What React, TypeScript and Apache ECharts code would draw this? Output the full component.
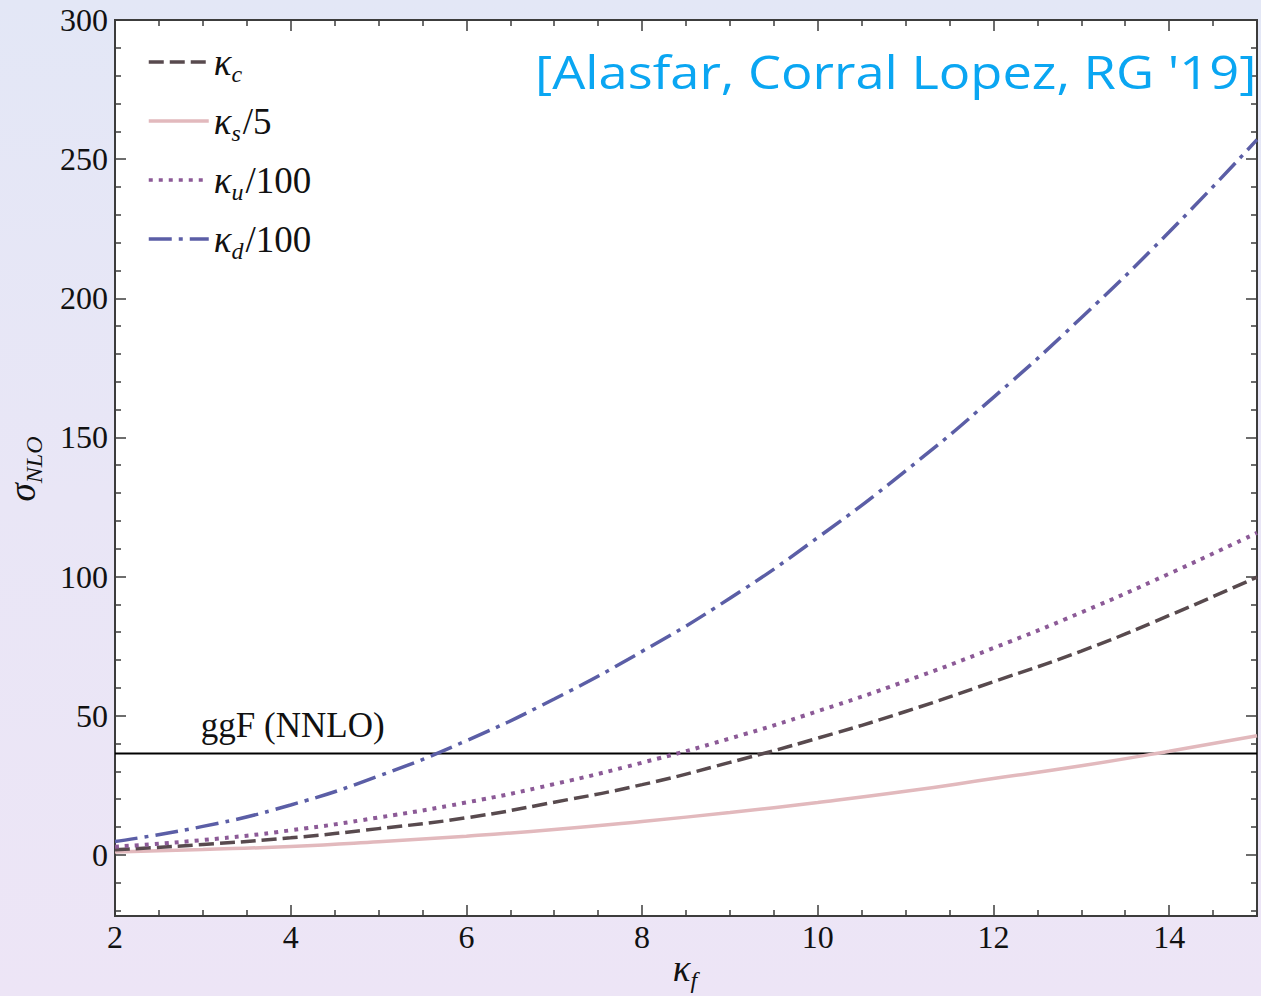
import React, { useEffect, useRef } from "react";
import * as echarts from "echarts";

// kappa_f values
const kappa = [2, 3, 4, 5, 6, 7, 8, 9, 10, 11, 12, 13, 14, 15];
// sigma_NLO for each coupling
const sigmaKc = [1.8, 3.7, 6.1, 9.4, 13.3, 18.9, 25.2, 33.2, 41.9, 51.5, 62.2, 73.2, 86.0, 99.8];
const sigmaKs5 = [1.0, 1.9, 3.0, 4.7, 6.7, 9.1, 12.0, 15.2, 18.8, 22.8, 27.4, 32.0, 37.2, 42.8];
const sigmaKu100 = [2.9, 5.3, 8.8, 13.4, 18.8, 25.4, 33.1, 41.8, 51.6, 62.4, 74.3, 87.1, 101.0, 115.7];
const sigmaKd100 = [4.8, 10.2, 17.9, 28.3, 41.0, 56.0, 73.1, 92.2, 114.0, 138.0, 164.4, 193.0, 223.8, 257.0];
const ggfNNLO = 36.4;
const ggfLabel = "ggF (NNLO)";
const citation = "[Alasfar, Corral Lopez, RG '19]";

// ticks
const xMajor = [2, 4, 6, 8, 10, 12, 14];
const xMinor = [2.5, 3, 3.5, 4.5, 5, 5.5, 6.5, 7, 7.5, 8.5, 9, 9.5, 10.5, 11, 11.5, 12.5, 13, 13.5, 14.5];
const yMajor = [0, 50, 100, 150, 200, 250, 300];
const yMinor = [-20, -10, 10, 20, 30, 40, 60, 70, 80, 90, 110, 120, 130, 140, 160, 170, 180, 190, 210, 220, 230, 240, 260, 270, 280, 290];

const seriesNames = ["kc", "ks", "ku", "kd"];
const legendLabels: Record<string, string> = {
  kc: "{k|κ}{s|c}",
  ks: "{k|κ}{s|s}{n|/5}",
  ku: "{k|κ}{s|u}{n|/100}",
  kd: "{k|κ}{s|d}{n|/100}",
};

const SERIF = "Liberation Serif";
const FRAME = "#3c3c3c";
const X_MIN = 2, X_MAX = 15, Y_MIN = -22, Y_MAX = 300;

const pairs = (ys: number[]) => kappa.map((k, i) => [k, ys[i]]);

const richMath = {
  k: { fontFamily: SERIF, fontStyle: "italic", fontSize: 37, lineHeight: 36, verticalAlign: "top", color: "#111" },
  s: { fontFamily: SERIF, fontStyle: "italic", fontSize: 24, lineHeight: 22, verticalAlign: "top", padding: [18, 2, 0, 0], color: "#111" },
  n: { fontFamily: SERIF, fontStyle: "normal", fontSize: 37, lineHeight: 36, verticalAlign: "top", color: "#111" },
};

function xAxisDef(grid: number, position: string, ticks: number[], len: number, labels: boolean, name?: boolean) {
  return {
    type: "value",
    gridIndex: grid,
    position,
    min: X_MIN,
    max: X_MAX,
    axisLine: { show: true, onZero: false, lineStyle: { color: FRAME, width: 2 } },
    axisTick: { show: true, inside: true, length: len, customValues: ticks, lineStyle: { color: FRAME, width: 1.5 } },
    axisLabel: labels
      ? { show: true, customValues: xMajor, margin: 5, fontFamily: SERIF, fontSize: 32, color: "#111" }
      : { show: false },
    splitLine: { show: false },
    name: name ? "{k|κ}{s|f}" : "",
    nameLocation: "middle",
    nameGap: 34,
    nameMoveOverlap: false,
    nameTextStyle: { fontFamily: SERIF, rich: richMath, verticalAlign: "top" },
  };
}

function yAxisDef(grid: number, position: string, ticks: number[], len: number, labels: boolean, name?: boolean) {
  return {
    type: "value",
    gridIndex: grid,
    position,
    min: Y_MIN,
    max: Y_MAX,
    axisLine: { show: true, onZero: false, lineStyle: { color: FRAME, width: 2 } },
    axisTick: { show: true, inside: true, length: len, customValues: ticks, lineStyle: { color: FRAME, width: 1.5 } },
    axisLabel: labels
      ? { show: true, customValues: yMajor, margin: 7, fontFamily: SERIF, fontSize: 32, color: "#111" }
      : { show: false },
    splitLine: { show: false },
    name: name ? "{k|σ}{s|NLO}" : "",
    nameLocation: "middle",
    nameRotate: 90,
    nameGap: 75,
    nameTextStyle: { fontFamily: SERIF, rich: richMath },
  };
}

export default function App() {
  const ref = useRef<HTMLDivElement>(null);
  useEffect(() => {
    if (!ref.current) return;
    const chart = echarts.init(ref.current, null, { renderer: "svg" });
    const gridRect = { left: 115, right: 4, top: 20, bottom: 80, outerBoundsMode: "none", containLabel: false };
    chart.setOption({
      animation: false,
      backgroundColor: "transparent",
      textStyle: { fontFamily: SERIF },
      grid: [
        { ...gridRect, show: true, backgroundColor: "#ffffff", borderWidth: 0 },
        { ...gridRect, show: false },
      ],
      xAxis: [
        xAxisDef(0, "bottom", xMajor, 11, true, true),
        xAxisDef(0, "top", xMajor, 11, false),
        xAxisDef(1, "bottom", xMinor, 6, false),
        xAxisDef(1, "top", xMinor, 6, false),
      ],
      yAxis: [
        yAxisDef(0, "left", yMajor, 11, true, true),
        yAxisDef(0, "right", yMajor, 11, false),
        yAxisDef(1, "left", yMinor, 6, false),
        yAxisDef(1, "right", yMinor, 6, false),
      ],
      legend: {
        data: seriesNames,
        orient: "vertical",
        left: 142,
        top: 39,
        itemWidth: 60,
        itemHeight: 14,
        itemGap: 17,
        formatter: (n: string) => legendLabels[n],
        itemStyle: { opacity: 0, borderWidth: 0 },
        lineStyle: { width: 3.5 },
        textStyle: { fontFamily: SERIF, rich: richMath },
      },
      series: [
        {
          name: "ggF",
          type: "line",
          xAxisIndex: 0,
          yAxisIndex: 0,
          data: [[X_MIN, ggfNNLO], [X_MAX, ggfNNLO]],
          symbol: "none",
          lineStyle: { color: "#000", width: 2.2 },
          itemStyle: { color: "#000" },
          z: 3,
          markPoint: {
            symbol: "circle",
            symbolSize: 0,
            data: [{ coord: [3, ggfNNLO] }],
            label: {
              show: true,
              formatter: ggfLabel,
              position: "right",
              distance: 0,
              offset: [-2, -28],
              fontFamily: SERIF,
              fontSize: 35,
              color: "#111",
            },
          },
        },
        {
          name: "ks",
          type: "line",
          data: pairs(sigmaKs5),
          smooth: true,
          symbol: "none",
          lineStyle: { color: "#e2b9bd", width: 3.5, type: "solid" },
          itemStyle: { color: "#e2b9bd" },
          z: 4,
        },
        {
          name: "kc",
          type: "line",
          data: pairs(sigmaKc),
          smooth: true,
          symbol: "none",
          lineStyle: { color: "#584a4e", width: 3.5, type: [15, 6] },
          itemStyle: { color: "#584a4e" },
          z: 5,
        },
        {
          name: "ku",
          type: "line",
          data: pairs(sigmaKu100),
          smooth: true,
          symbol: "none",
          lineStyle: { color: "#8c5a97", width: 4, type: [4, 6], cap: "butt" },
          itemStyle: { color: "#8c5a97" },
          z: 5,
        },
        {
          name: "kd",
          type: "line",
          data: pairs(sigmaKd100),
          smooth: true,
          symbol: "none",
          lineStyle: { color: "#5b5ea6", width: 3.5, type: [23, 7, 4, 7] },
          itemStyle: { color: "#5b5ea6" },
          z: 6,
        },
      ],
      graphic: [
        {
          type: "text",
          x: 535,
          y: 71,
          scaleX: 1.14,
          z: 10,
          style: {
            text: citation,
            fontFamily: "Open Sans",
            fontSize: 46,
            fill: "#0aa6f2",
            align: "left",
            verticalAlign: "middle",
          },
        },
      ],
    });
    return () => chart.dispose();
  }, []);
  return (
    <div
      style={{
        position: "absolute",
        left: 0,
        top: 0,
        width: 1261,
        height: 996,
        background: "linear-gradient(180deg, #e3e7f6 0%, #e9e6f6 50%, #ede5f6 100%)",
      }}
    >
      <div ref={ref} style={{ width: 1261, height: 996 }} />
    </div>
  );
}
